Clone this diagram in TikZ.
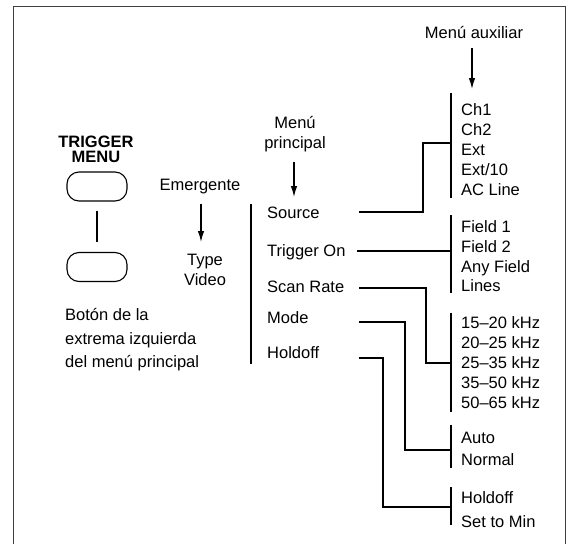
\documentclass[tikz,border=0pt]{standalone}
\usepackage{fontspec}
\setmainfont{Liberation Sans}
\usetikzlibrary{arrows.meta}
\begin{document}
\begin{tikzpicture}[x=1pt,y=-1pt,
  txt/.style={inner sep=0pt, font=\fontsize{16.5}{20}\selectfont},
  lst/.style={inner sep=0pt, anchor=west, align=left, font=\fontsize{16.5}{#1}\selectfont},
  ctr/.style={inner sep=0pt, anchor=center, align=center, font=\fontsize{16.5}{#1}\selectfont},
  conn/.style={line width=2.6pt},
  bar/.style={line width=2.4pt},
  arr/.style={line width=1.2pt, -{Latex[length=11pt,width=6.5pt]}},
  btn/.style={draw, line width=1.1pt, rounded corners=12pt, minimum width=60pt, minimum height=29pt, inner sep=0pt},
  frame/.style={line width=1pt, draw=black!75}]
\useasboundingbox (0,0) rectangle (568,544);
% frame
\coordinate (fbl) at (13,544);
\coordinate (ftl) at (13,6);
\coordinate (ftr) at (565,6);
\coordinate (fbr) at (565,544);
\draw[frame] (fbl) -- (ftl) -- (ftr) -- (fbr);

% left part
\node[inner sep=0pt, align=center, font=\fontsize{16.5}{15}\selectfont\bfseries] (trig) at (96,149.5) {TRIGGER\\MENU};
\node[btn] (btn1) at (97,186.5) {};
\node[btn] (btn2) at (97,267) {};
\draw[line width=2pt, shorten <=9pt, shorten >=10pt] (btn1.south) -- (btn2.north);
\node[lst=23.5] (boton) at (65,340) {Botón de la\\extrema izquierda\\del menú principal};

% Emergente
\node[txt] (emer) at (200,187) {Emergente};
\node[ctr=20] (type) at (205,270) {Type\\Video};
\coordinate (emtip) at (201,242);
\draw[arr, shorten <=9pt] (emer.south -| emtip) -- (emtip);

% Menu principal
\node[ctr=20] (mprin) at (295,134) {Menú\\principal};
\coordinate (mptip) at (294,197);
\draw[arr, shorten <=10pt] (mprin.south -| mptip) -- (mptip);
\coordinate (mbt) at (251,204);
\coordinate (mbb) at (251,364);
\draw[bar] (mbt) -- (mbb);
\node[txt, anchor=west] (src) at (267,213) {Source};
\node[txt, anchor=west] (trg) at (267,252) {Trigger On};
\node[txt, anchor=west] (scan) at (267,287) {Scan Rate};
\node[txt, anchor=west] (mode) at (267,318) {Mode};
\node[txt, anchor=west] (hold) at (267,353) {Holdoff};

% Menu auxiliar
\node[txt] (maux) at (474,33) {Menú auxiliar};
\coordinate (mxtip) at (472,89);
\draw[arr, shorten <=9pt] (maux.south -| mxtip) -- (mxtip);

% aux bars
\coordinate (b1t) at (451,93);  \coordinate (b1b) at (451,198);
\coordinate (b2t) at (451,215); \coordinate (b2b) at (451,293);
\coordinate (b3t) at (451,313); \coordinate (b3b) at (451,412);
\coordinate (b4t) at (451,425); \coordinate (b4b) at (451,468);
\coordinate (b5t) at (451,487); \coordinate (b5b) at (451,525);
\draw[bar] (b1t) -- (b1b);
\draw[bar] (b2t) -- (b2b);
\draw[bar] (b3t) -- (b3b);
\draw[bar] (b4t) -- (b4b);
\draw[bar] (b5t) -- (b5b);

% aux lists
\node[lst=20] (l1) at (461,150) {Ch1\\Ch2\\Ext\\Ext/10\\AC Line};
\node[lst=19.7] (l2) at (461,256.5) {Field 1\\Field 2\\Any Field\\Lines};
\node[lst=20] (l3) at (461,363) {15–20 kHz\\20–25 kHz\\25–35 kHz\\35–50 kHz\\50–65 kHz};
\node[lst=22] (l4) at (461,449) {Auto\\Normal};
\node[lst=24] (l5) at (461,510) {Holdoff\\Set to Min};

% connectors
\coordinate (c1s) at (359,212); \coordinate (c1a) at (423,212); \coordinate (c1b) at (423,143); \coordinate (c1e) at (451,143);
\draw[conn] (c1s) -- (c1a) -- (c1b) -- (c1e);
\coordinate (c2s) at (357,251); \coordinate (c2e) at (451,251);
\draw[conn] (c2s) -- (c2e);
\coordinate (c3s) at (359,288); \coordinate (c3a) at (426,288); \coordinate (c3b) at (426,363); \coordinate (c3e) at (451,363);
\draw[conn] (c3s) -- (c3a) -- (c3b) -- (c3e);
\coordinate (c4s) at (359,322); \coordinate (c4a) at (405,322); \coordinate (c4b) at (405,450); \coordinate (c4e) at (451,450);
\draw[conn] (c4s) -- (c4a) -- (c4b) -- (c4e);
\coordinate (c5s) at (359,358); \coordinate (c5a) at (383,358); \coordinate (c5b) at (383,507); \coordinate (c5e) at (451,507);
\draw[conn] (c5s) -- (c5a) -- (c5b) -- (c5e);
\end{tikzpicture}
\end{document}
